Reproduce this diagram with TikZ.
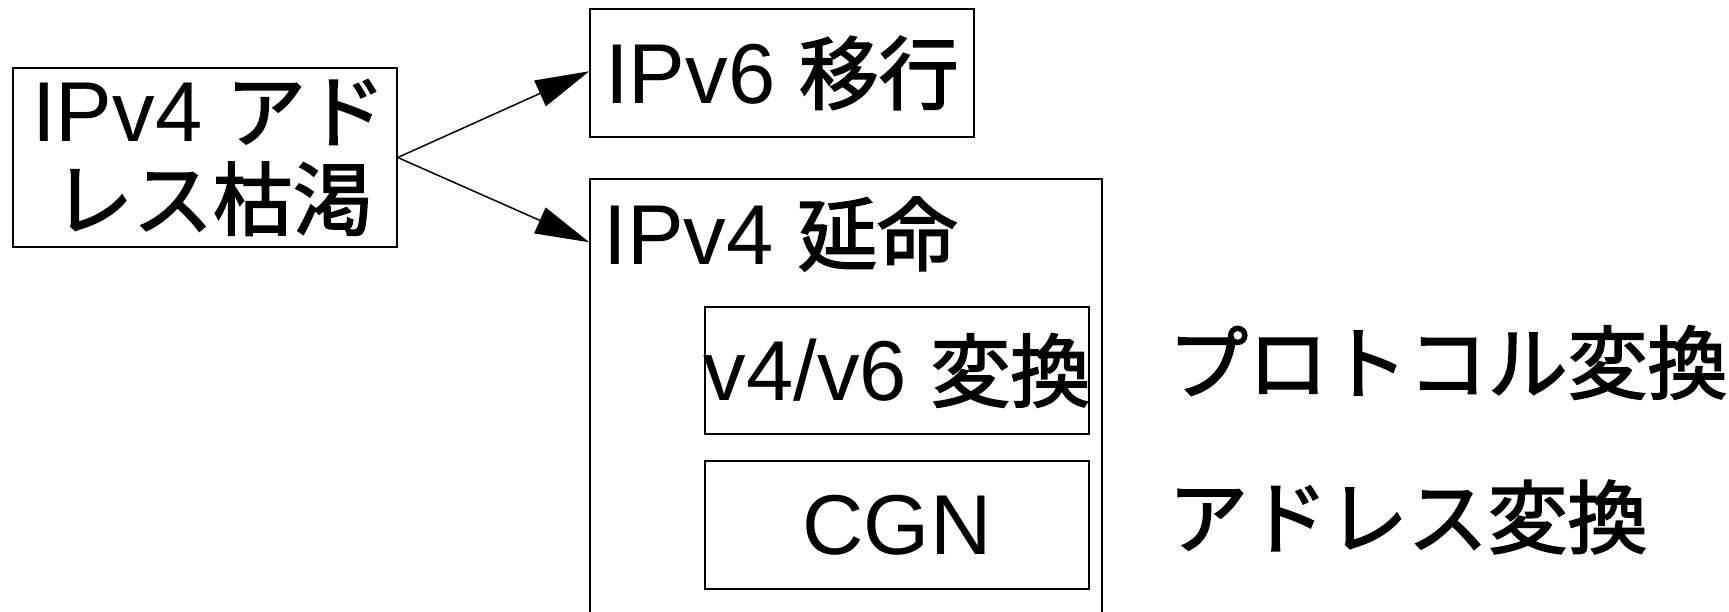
\documentclass[tikz,border=0pt]{standalone}
\usepackage{fontspec}
\setmainfont{Liberation Sans}
\newfontfamily\jpfont[Scale=0.94, FakeBold=2]{Noto Sans CJK JP}
\newcommand\jp[1]{{\jpfont #1}}
\usetikzlibrary{arrows.meta}
\begin{document}
\begin{tikzpicture}[x=0.5pt,y=-0.5pt,
  font=\fontsize{42.5}{44}\selectfont,
  boxnode/.style={draw, line width=0.75pt, inner sep=0pt},
  plain/.style={inner sep=0pt},
  conn/.style={line width=0.75pt, -{Triangle[length=27pt,width=14pt]}}]
\useasboundingbox (0,0) rectangle (1729,611);
\node[boxnode, minimum width=192pt, minimum height=89.5pt] (exh) at (205,157.5) {};
\node[plain, align=center] (exht) at ([xshift=2pt]exh) {IPv4 \jp{アド}\\\hspace{4pt}\jp{レス枯渇}};
\node[boxnode, minimum width=192pt, minimum height=64pt] (v6) at (782,73) {};
\node[plain] (v6t) at (v6) {IPv6 \jp{移行}};
\node[boxnode, minimum width=256pt, minimum height=230pt] (v4) at (846,409) {};
\node[plain, anchor=base west] (v4t) at ([xshift=7pt,yshift=-43pt]v4.north west) {IPv4 \jp{延命}};
\node[boxnode, minimum width=192pt, minimum height=63.5pt] (conv) at (897,370.5) {};
\node[plain] (convt) at (conv) {v4/v6 \jp{変換}};
\node[boxnode, minimum width=192pt, minimum height=64pt] (cgn) at (897,525) {};
\node[plain] (cgnt) at (cgn) {CGN};
\node[plain, anchor=west] (proto) at ([xshift=39pt,yshift=4pt]conv.east) {\jp{プロトコル変換}};
\node[plain, anchor=west] (addr) at ([xshift=39pt,yshift=4pt]cgn.east) {\jp{アドレス変換}};
\draw[conn] (exh.east) -- ([yshift=-31.5pt]v6.north west);
\draw[conn] (exh.east) -- ([yshift=-32pt]v4.north west);
\end{tikzpicture}
\end{document}
